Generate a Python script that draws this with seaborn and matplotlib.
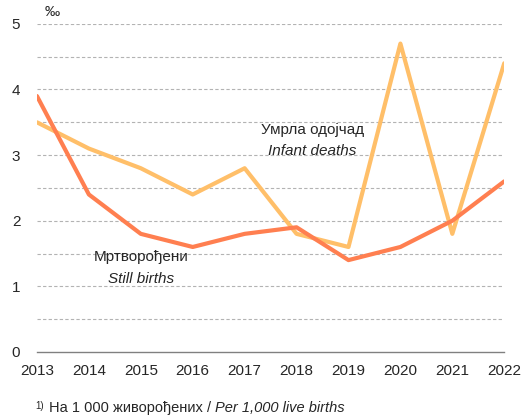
import matplotlib
matplotlib.use("Agg")
import matplotlib.pyplot as plt
import pandas as pd
import seaborn as sns

years = [2013, 2014, 2015, 2016, 2017, 2018, 2019, 2020, 2021, 2022]
still_births = [3.9, 2.4, 1.8, 1.6, 1.8, 1.9, 1.4, 1.6, 2.0, 2.6]
infant_deaths = [3.5, 3.1, 2.8, 2.4, 2.8, 1.8, 1.6, 4.7, 1.8, 4.4]
y_ticks = [0, 1, 2, 3, 4, 5]

df = pd.DataFrame({
    'year': years * 2,
    'value': infant_deaths + still_births,
    'series': ['infant'] * len(years) + ['still'] * len(years),
})

sns.set_style("white")
plt.rcParams['font.family'] = ['Liberation Sans', 'DejaVu Sans']

fig = plt.figure(figsize=(5.28, 4.19), dpi=100)
ax = fig.add_axes([0.070, 0.160, 0.885, 0.783])

# gridlines every 0.5, drawn under the lines
for g in [0.5, 1, 1.5, 2, 2.5, 3, 3.5, 4, 4.5, 5]:
    ax.axhline(g, color='#b3b3b3', lw=0.8, ls=(0, (3, 2)), zorder=0)

sns.lineplot(data=df, x='year', y='value', hue='series',
             palette={'still': '#ff7f50', 'infant': '#ffbf69'},
             hue_order=['infant', 'still'],
             lw=3, legend=False, ax=ax, zorder=3)

ax.set_xlim(2013, 2022)
ax.set_ylim(0, 5)
ax.set_xticks(years)
ax.set_xticklabels([str(y) for y in years], fontsize=11)
ax.set_yticks(y_ticks)
ax.set_yticklabels([str(t) for t in y_ticks], fontsize=11)
ax.set_xlabel('')
ax.set_ylabel('')

for s in ['top', 'right', 'left']:
    ax.spines[s].set_visible(False)
ax.spines['bottom'].set_color('#808080')
ax.spines['bottom'].set_linewidth(1)
ax.tick_params(axis='x', direction='out', length=5, color='#808080', width=1, pad=4)
ax.tick_params(axis='y', length=0, pad=12)

ax.text(2013.15, 5.08, '‰', fontsize=11, ha='left', va='bottom')

ax.text(2018.3, 3.38, 'Умрла одојчад', fontsize=11, ha='center', va='center')
ax.text(2018.3, 3.06, 'Infant deaths', fontsize=11, ha='center', va='center', style='italic')
ax.text(2015.0, 1.44, 'Мртворођени', fontsize=11, ha='center', va='center')
ax.text(2015.0, 1.11, 'Still births', fontsize=11, ha='center', va='center', style='italic')

fig.text(0.066, 0.020, '1)', fontsize=7, ha='left', va='bottom')
t = fig.text(0.092, 0.009, 'На 1 000 живорођених / ', fontsize=10.5, ha='left', va='bottom')
fig.canvas.draw()
bb = t.get_window_extent()
x_end = bb.x1 / fig.bbox.width
fig.text(x_end, 0.009, 'Per 1,000 live births', fontsize=10.5, ha='left', va='bottom', style='italic')

fig.savefig('out.png', dpi=100)
